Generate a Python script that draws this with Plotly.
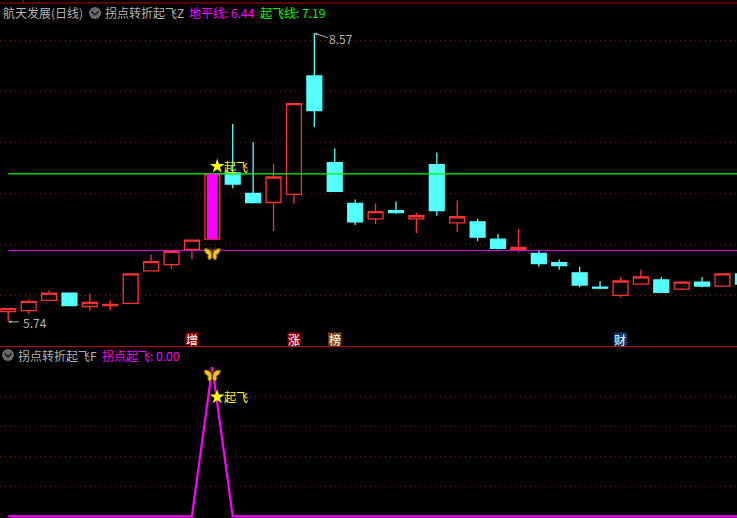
import plotly.graph_objects as go

W, H = 737, 518

# ---------- data (prices) ----------
opens = [5.84, 5.85, 5.95, 6.02, 5.89, 5.90, 5.92, 6.24, 6.30, 6.45, 6.55,
         7.20, 7.00, 6.91, 6.99, 8.15, 7.30, 6.90, 6.75, 6.83, 6.75, 7.28, 6.71, 6.72, 6.55,
         6.45, 6.41, 6.32, 6.22, 6.08, 6.00, 6.11, 6.15, 6.06, 6.13, 6.09, 6.21]
closes = [5.87, 5.94, 6.02, 5.90, 5.93, 5.91, 6.21, 6.33, 6.43, 6.54, 7.19,
          7.09, 6.91, 7.16, 7.88, 7.81, 7.02, 6.72, 6.82, 6.81, 6.78, 6.83, 6.77, 6.57, 6.46,
          6.47, 6.31, 6.29, 6.10, 6.07, 6.14, 6.18, 6.03, 6.13, 6.09, 6.21, 6.11]
highs = [5.87, 5.96, 6.05, 6.02, 6.02, 5.95, 6.21, 6.40, 6.43, 6.54, 7.19,
         7.68, 7.50, 7.29, 7.88, 8.57, 7.44, 6.94, 6.90, 6.92, 6.81, 7.40, 6.93, 6.75, 6.60,
         6.65, 6.45, 6.35, 6.28, 6.14, 6.18, 6.25, 6.18, 6.13, 6.18, 6.21, 6.21]
lows = [5.74, 5.82, 5.95, 5.90, 5.85, 5.85, 5.92, 6.24, 6.26, 6.35, 6.55,
        7.05, 6.91, 6.63, 6.90, 7.65, 7.02, 6.69, 6.70, 6.80, 6.61, 6.78, 6.62, 6.53, 6.45,
        6.42, 6.28, 6.25, 6.08, 6.06, 5.98, 6.11, 6.03, 6.05, 6.08, 6.09, 6.11]
ground_line = 6.44
takeoff_line = 7.19
signal_values = [0, 0, 0, 0, 0, 0, 0, 0, 0, 0, 100, 0, 0, 0, 0, 0, 0, 0, 0, 0, 0, 0, 0, 0, 0,
                 0, 0, 0, 0, 0, 0, 0, 0, 0, 0, 0, 0]
signal_index = 10
badges = [(9, "增", "#8b0000"), (14, "涨", "#8b0000"), (16, "榜", "#8a4b0f"), (30, "财", "#0a3a70")]
price_ticks = [6.0, 6.5, 7.0, 7.5, 8.0, 8.5]
signal_ticks = [20, 40, 60, 80]

# ---------- helpers ----------
FONT = "Noto Sans CJK SC"
GREY = "#b4b4b4"
RED = "#ff3232"
CYAN = "#54ffff"
MAGENTA = "#ff00ff"
YELLOW = "#ffff00"
GREEN = "#00ff00"
GRID = "#8c1414"


def px(x):
    return x / W


def py(y):
    return 1 - y / H


idx = list(range(len(opens)))
fig = go.Figure()

fig.add_trace(go.Candlestick(
    x=idx, open=opens, high=highs, low=lows, close=closes,
    increasing=dict(line=dict(color=RED, width=1.3), fillcolor="#000000"),
    decreasing=dict(line=dict(color=CYAN, width=1.3), fillcolor=CYAN),
    whiskerwidth=0, xaxis="x", yaxis="y", showlegend=False))

fig.add_trace(go.Scatter(x=[0, idx[-1]], y=[takeoff_line] * 2, mode="lines",
                         line=dict(color=GREEN, width=1.2), xaxis="x", yaxis="y", showlegend=False))
fig.add_trace(go.Scatter(x=[0, idx[-1]], y=[ground_line] * 2, mode="lines",
                         line=dict(color="#e010e0", width=1), xaxis="x", yaxis="y", showlegend=False))

fig.add_trace(go.Scatter(x=idx, y=signal_values, mode="lines",
                         line=dict(color=MAGENTA, width=2.2), xaxis="x2", yaxis="y2", showlegend=False))

# stars
star_dx = 0.24
fig.add_trace(go.Scatter(x=[signal_index + star_dx], y=[7.265], mode="markers",
                         marker=dict(symbol="star", size=11, color=YELLOW, line=dict(width=0)),
                         xaxis="x", yaxis="y", showlegend=False))
fig.add_trace(go.Scatter(x=[signal_index + star_dx], y=[80], mode="markers",
                         marker=dict(symbol="star", size=11, color=YELLOW, line=dict(width=0)),
                         xaxis="x2", yaxis="y2", showlegend=False))

x_axis = dict(range=[-0.403, 35.71], showgrid=False, zeroline=False, visible=False, fixedrange=True)
fig.update_layout(
    width=W, height=H, autosize=False,
    margin=dict(l=0, r=0, t=0, b=0),
    paper_bgcolor="#000000", plot_bgcolor="#000000",
    showlegend=False, boxgap=0.27, boxgroupgap=0,
    xaxis=dict(**x_axis, rangeslider=dict(visible=False), anchor="y"),
    xaxis2=dict(**x_axis, anchor="y2"),
    yaxis=dict(domain=[py(346), 1], range=[6.5 - (346 - 244.3) / 102, 6.5 + 244.3 / 102],
               tickvals=price_ticks, showticklabels=False, ticks="", zeroline=False,
               showgrid=True, gridcolor=GRID, gridwidth=1, griddash="1px,4px", fixedrange=True),
    yaxis2=dict(domain=[0, py(347)], range=[-1.13, 113.5],
                tickvals=signal_ticks, showticklabels=False, ticks="", zeroline=False,
                showgrid=True, gridcolor=GRID, gridwidth=1, griddash="1px,4px", fixedrange=True),
    font=dict(family=FONT, color=GREY, size=12),
)

# magenta inner body of the take-off candle
fig.add_shape(type="rect", xref="x", yref="y", x0=signal_index - 0.27, x1=signal_index + 0.27,
              y0=opens[signal_index], y1=closes[signal_index],
              fillcolor=MAGENTA, line=dict(width=0), layer="above")


def head(x, y, text, color=GREY, size=12):
    fig.add_annotation(xref="paper", yref="paper", x=px(x), y=py(y), text=text, showarrow=False,
                       xanchor="left", yanchor="middle", font=dict(family=FONT, size=size, color=color))


head(1, 13, "航天发展(日线)")
head(103, 13, "拐点转折起飞Z")
head(187, 13, "地平线: 6.44", MAGENTA)
head(258, 13, "起飞线: 7.19", GREEN)
head(16, 355, "拐点转折起飞F")
head(100, 355, "拐点起飞: 0.00", MAGENTA)

# star labels
fig.add_annotation(xref="x", yref="y", x=signal_index, y=7.265, xshift=10, text="起飞", showarrow=False,
                   xanchor="left", yanchor="middle", font=dict(family=FONT, size=12, color=YELLOW))
fig.add_annotation(xref="x2", yref="y2", x=signal_index, y=80, xshift=10, text="起飞", showarrow=False,
                   xanchor="left", yanchor="middle", font=dict(family=FONT, size=12, color=YELLOW))

# high / low labels with small arrows
hi = highs.index(max(highs))
lo = lows.index(min(lows))
fig.add_annotation(xref="x", yref="y", x=hi, y=highs[hi], ax=15, ay=5, axref="pixel", ayref="pixel",
                   text="", showarrow=True, arrowhead=2, arrowsize=0.6, arrowwidth=1, arrowcolor=GREY, standoff=0)
fig.add_annotation(xref="x", yref="y", x=hi, y=highs[hi], xshift=13, yshift=-5, text=f"{highs[hi]:.2f}",
                   showarrow=False, xanchor="left", yanchor="middle",
                   font=dict(family=FONT, size=12, color=GREY))
fig.add_annotation(xref="x", yref="y", x=lo, y=lows[lo], ax=12, ay=0, axref="pixel", ayref="pixel",
                   text="", showarrow=True, arrowhead=2, arrowsize=0.6, arrowwidth=1, arrowcolor=GREY, standoff=0)
fig.add_annotation(xref="x", yref="y", x=lo, y=lows[lo], xshift=13, yshift=-1, text=f"{lows[lo]:.2f}",
                   showarrow=False, xanchor="left", yanchor="middle",
                   font=dict(family=FONT, size=12, color=GREY))

# event badges
for i, ch, col in badges:
    fig.add_shape(type="rect", xref="x", yref="paper", x0=i - 0.32, x1=i + 0.32, y0=py(345.5), y1=py(332.5),
                  fillcolor=col, line=dict(width=0), layer="above")
    fig.add_annotation(xref="x", yref="paper", x=i, y=py(339), text=ch, showarrow=False,
                       xanchor="center", yanchor="middle", font=dict(family=FONT, size=12, color="#ffffff"))

# frame lines
fig.add_shape(type="line", xref="paper", yref="paper", x0=0, x1=1, y0=py(3), y1=py(3),
              line=dict(color="#b40000", width=1), layer="above")
fig.add_shape(type="line", xref="paper", yref="paper", x0=px(23.5), x1=px(23.5), y0=py(0), y1=py(3),
              line=dict(color="#b40000", width=1), layer="above")
fig.add_shape(type="line", xref="paper", yref="paper", x0=0, x1=1, y0=py(346.5), y1=py(346.5),
              line=dict(color="#b40000", width=1), layer="above")


def chevron_button(cx, cy):
    fig.add_shape(type="circle", xref="paper", yref="paper", x0=px(cx - 6), x1=px(cx + 6),
                  y0=py(cy + 6), y1=py(cy - 6), fillcolor="#6a6a6a", line=dict(width=0), layer="above")
    fig.add_shape(type="line", xref="paper", yref="paper", x0=px(cx - 3.5), x1=px(cx), y0=py(cy - 1.5), y1=py(cy + 2),
                  line=dict(color="#111111", width=1.4), layer="above")
    fig.add_shape(type="line", xref="paper", yref="paper", x0=px(cx), x1=px(cx + 3.5), y0=py(cy + 2), y1=py(cy - 1.5),
                  line=dict(color="#111111", width=1.4), layer="above")


chevron_button(95, 13)
chevron_button(8, 355)

# butterflies: outline sized in pixels (y up), anchored to the signal candle
WING = ("M 0 0 C -1 3 -4 6 -8 5 C -8 2 -6 0 -4 -1 C -5 -3 -4 -5 -3 -6 C -1 -5 0 -3 0 -1 "
        "C 0 -3 1 -5 3 -6 C 4 -5 5 -3 4 -1 C 6 0 8 2 8 5 C 4 6 1 3 0 0 Z")


def butterfly(xref, yref, yval):
    fig.add_shape(type="path", xref=xref, yref=yref, xsizemode="pixel", ysizemode="pixel",
                  xanchor=signal_index, yanchor=yval, path=WING,
                  fillcolor="#f2c41e", line=dict(color="#9a6a10", width=1), layer="above")
    fig.add_shape(type="path", xref=xref, yref=yref, xsizemode="pixel", ysizemode="pixel",
                  xanchor=signal_index, yanchor=yval, path="M 0 -5 L 1 3 L 3 7 L 0 4 L -3 7 L -1 3 Z",
                  fillcolor="#5a3a10", line=dict(color="#5a3a10", width=0.5), layer="above")


butterfly("x", "y", 6.405)
butterfly("x2", "y2", 94.5)

fig.write_html("out.html", config={"displayModeBar": False},
               post_script="document.body.style.margin='0';document.documentElement.style.background='#000';")
